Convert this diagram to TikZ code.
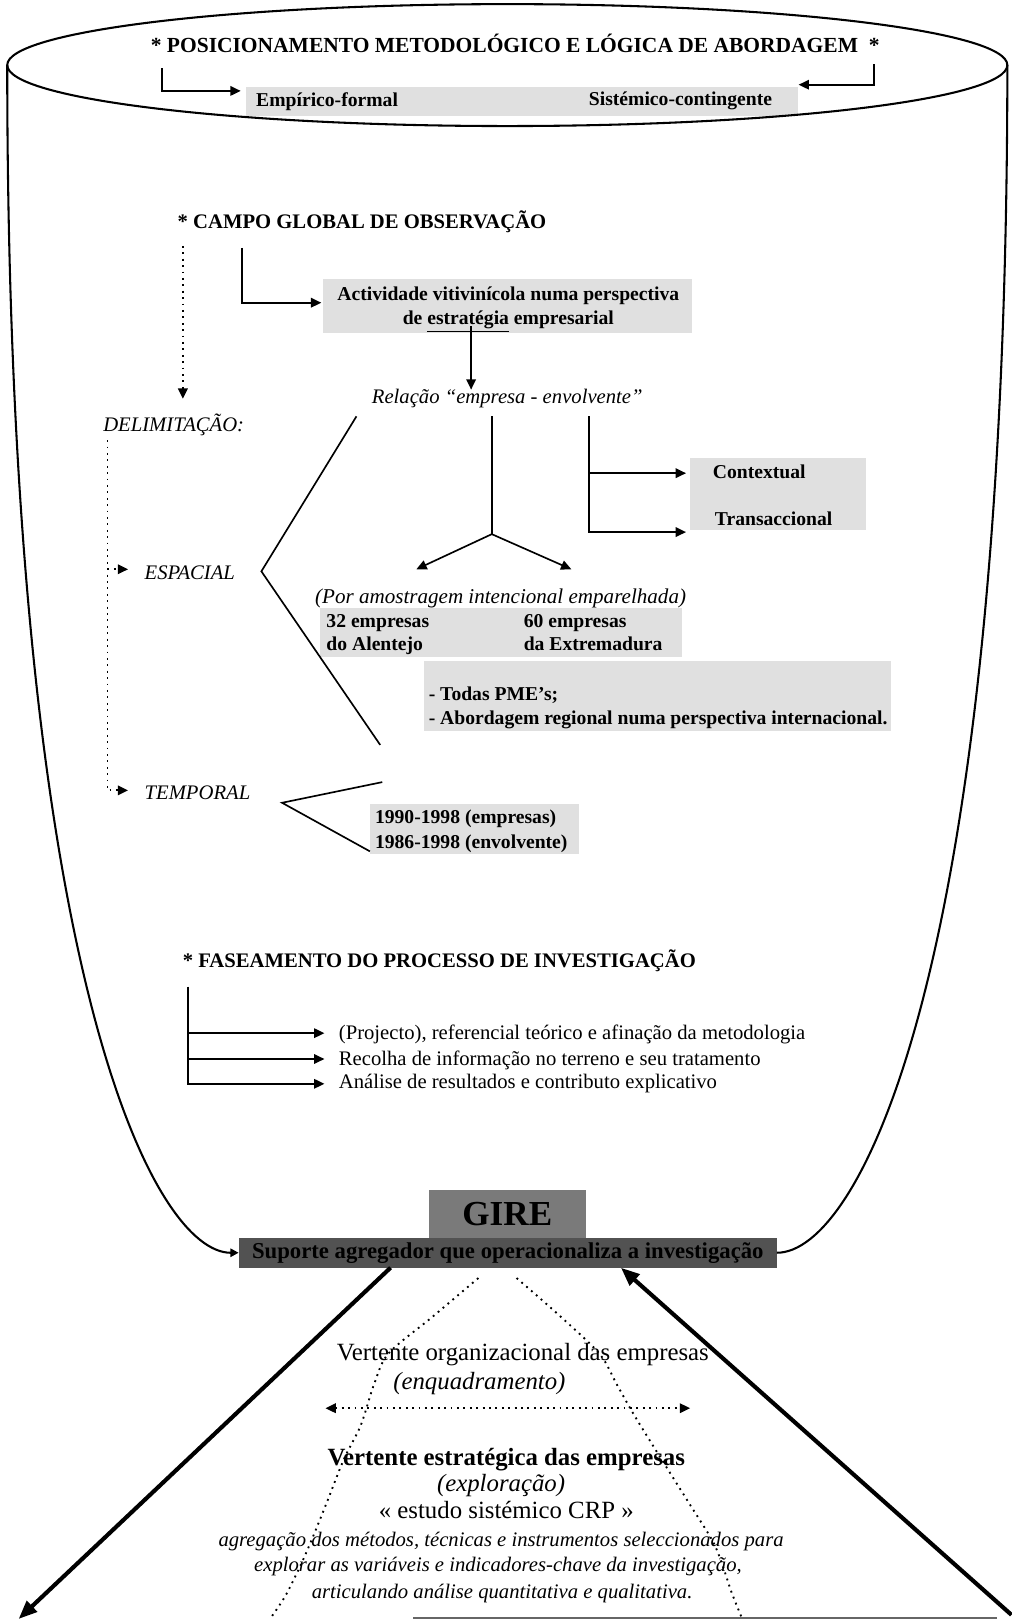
\documentclass[tikz,border=0pt]{standalone}
\usepackage{fontspec}
\setmainfont{Liberation Serif}
\usetikzlibrary{arrows.meta}
\begin{document}
\begin{tikzpicture}[x=0.5pt,y=-0.5pt,
  every node/.style={inner sep=0pt, outer sep=0pt},
  hd/.style={anchor=base west, font=\fontsize{10}{12}\selectfont\bfseries},
  sb/.style={anchor=base west, font=\fontsize{9.5}{11.5}\selectfont\bfseries},
  it/.style={anchor=base west, font=\fontsize{10}{12}\selectfont\itshape},
  rm/.style={anchor=base west, font=\fontsize{10}{12}\selectfont},
  big/.style={anchor=base, font=\fontsize{12}{14}\selectfont},
  shade/.style={fill=black!12},
  ln/.style={line width=0.8pt},
  tip/.style={-{Triangle[length=5pt,width=4.6pt]}},
  dotln/.style={line width=0.9pt, dash pattern=on 0.9pt off 2.2pt},
  cyl/.style={line width=1pt},
  heavy/.style={line width=2pt, -{Triangle[length=9pt,width=7pt]}},
]
\fill[white] (0,0) rectangle (979,1568);
\useasboundingbox (0,0) rectangle (979,1568);

% light shaded panels behind the highlighted texts
\fill[shade] (238,84) rectangle (772,112);
\fill[shade] (313,270) rectangle (670,322);
\fill[shade] (668,443) rectangle (838,513);
\fill[shade] (310,588) rectangle (660,636);
\fill[shade] (410,640) rectangle (862,708);
\fill[shade] (358,778) rectangle (560,827);

% ---------- top: methodological positioning ----------
\draw[cyl] (491,63) ellipse [x radius=242pt, y radius=29.5pt];
\node[hd, font=\fontsize{10.4}{12}\selectfont\bfseries] (title) at (146,51)
  {* POSICIONAMENTO METODOLÓGICO E LÓGICA DE ABORDAGEM\ \ *};
\node[sb] (emp) at (248,103) {Empírico-formal};
\node[sb] (sis) at (570,102) {Sistémico-contingente};
\coordinate (a1s) at (157,66);
\coordinate (a1e) at (233,88);
\coordinate (a2s) at (846,62);
\coordinate (a2e) at (773,82);
\draw[ln,tip] (a1s) |- (a1e);
\draw[ln,tip] (a2s) |- (a2e);

% ---------- global field of observation ----------
\node[hd] (campo) at (172,221) {* CAMPO GLOBAL DE OBSERVAÇÃO};
\coordinate (c1s) at (234,240);
\coordinate (c1e) at (311,293);
\draw[ln,tip] (c1s) |- (c1e);
\node[sb, anchor=base] (act1) at (492,291) {Actividade vitivinícola numa perspectiva};
\node[sb, anchor=base] (act2) at (492,314) {de \underline{estratégia} empresarial};
\node[it] (rel) at (360,391) {Relação “empresa - envolvente”};
\coordinate (d1) at (456,316);
\draw[ln,tip] (d1) -- (d1 |- rel.north);

\coordinate (v0) at (177,238);
\draw[dotln,tip] (v0) -- (177,386);
\node[it] (delim) at (100,418) {DELIMITAÇÃO:};
\node[it] (esp) at (140,561) {ESPACIAL};
\node[it] (temp) at (140,774) {TEMPORAL};
\coordinate (dl0) at (104,426);
\coordinate (dl1) at (104,551);
\draw[dotln,tip] (dl0) |- (124,765);
\draw[dotln,tip] (dl1) -- (124,551);

% spatial delimitation
\draw[ln] (345,403) -- (253,553) -- (368,721);
\coordinate (r1) at (476,403);
\coordinate (r1b) at (476,517);
\draw[ln] (r1) -- (r1b);
\draw[ln,tip] (r1b) -- (403,551);
\draw[ln,tip] (r1b) -- (553,551);
\coordinate (r2) at (570,403);
\coordinate (r2m) at (570,458);
\draw[ln,tip] (r2) |- (664,515);
\draw[ln,tip] (r2m) -- (664,458);
\node[sb] (ctx) at (690,463) {Contextual};
\node[sb] (trn) at (692,509) {Transaccional};

\node[it, font=\fontsize{10.2}{12}\selectfont\itshape] (por) at (305,584) {(Por amostragem intencional emparelhada)};
\node[sb] (n32) at (316,607) {32 empresas};
\node[sb] (alt) at (316,630) {do Alentejo};
\node[sb] (n60) at (507,607) {60 empresas};
\node[sb] (ext) at (507,630) {da Extremadura};
\node[sb] (pme) at (415,678) {- Todas PME’s;};
\node[sb] (abo) at (415,701) {- Abordagem regional numa perspectiva internacional.};

% temporal delimitation
\draw[ln] (370,757) -- (273,777) -- (358,824);
\node[sb] (y1) at (363,797) {1990-1998 (empresas)};
\node[sb] (y2) at (363,821) {1986-1998 (envolvente)};

% ---------- research phases ----------
\node[hd] (fase) at (177,936) {* FASEAMENTO DO PROCESSO DE INVESTIGAÇÃO};
\node[rm] (p1) at (328,1006) {(Projecto), referencial teórico e afinação da metodologia};
\node[rm] (p2) at (328,1031) {Recolha de informação no terreno e seu tratamento};
\node[rm] (p3) at (328,1054) {Análise de resultados e contributo explicativo};
\coordinate (f0) at (182,955);
\coordinate (f1) at (182,1000);
\coordinate (f2) at (182,1025);
\draw[ln,tip] (f0) |- (314,1049);
\draw[ln,tip] (f1) -- (314,1000);
\draw[ln,tip] (f2) -- (314,1025);

% ---------- GIRE support ----------
\node[fill=black!52, minimum width=76pt, minimum height=23pt,
      font=\fontsize{17}{20}\selectfont\bfseries] (gire) at (491,1175) {GIRE};
\node[fill=black!68, minimum width=260.5pt, minimum height=14.5pt,
      font=\fontsize{11}{12}\selectfont\bfseries] (bar) at (491.5,1212.5)
  {Suporte agregador que operacionaliza a investigação};

\draw[cyl,-{Triangle[length=4pt,width=4pt]}] (7,63) .. controls (7,950) and (150,1213) .. (bar.west);
\draw[cyl] (975,63) .. controls (975,950) and (829,1213) .. (bar.east);

% ---------- lower pyramid ----------
\coordinate (bl) at (18,1567);
\coordinate (br) at (979,1563);
\draw[heavy] ([xshift=-56.75pt]bar.south) -- (bl);
\draw[heavy] (br) -- ([xshift=54.75pt]bar.south);

\draw[dotln] plot[smooth] coordinates {(463,1237) (418,1275) (376,1310) (362,1340) (349,1380) (333,1412) (316,1455) (301,1492) (290,1517) (276,1545) (262,1566)};
\draw[dotln] plot[smooth] coordinates {(500,1237) (540,1272) (580,1310) (597,1340) (614,1370) (640,1412) (667,1455) (690,1492) (700,1517) (708,1541) (718,1566)};

\node[big] (org) at (506,1317) {Vertente organizacional das empresas};
\node[big, font=\fontsize{12}{14}\selectfont\itshape] (enq) at (464,1345) {(enquadramento)};
\coordinate (h1) at (315,1363);
\coordinate (h2) at (668,1363);
\draw[dotln,{Triangle[length=5pt,width=4.6pt]}-{Triangle[length=5pt,width=4.6pt]}] (h1) -- (h2);
\node[big, font=\fontsize{12}{14}\selectfont\bfseries] (est) at (490,1418) {Vertente estratégica das empresas};
\node[big, font=\fontsize{12}{14}\selectfont\itshape] (expl) at (485,1444) {(exploração)};
\node[big] (crp) at (490,1470) {« estudo sistémico CRP »};
\node[anchor=base, font=\fontsize{10}{12}\selectfont\itshape] (ag1) at (485,1497) {agregação dos métodos, técnicas e instrumentos seleccionados para};
\node[anchor=base, font=\fontsize{10}{12}\selectfont\itshape] (ag2) at (482,1521) {explorar as variáveis e indicadores-chave da investigação,};
\node[anchor=base, font=\fontsize{10}{12}\selectfont\itshape] (ag3) at (486,1547) {articulando análise quantitativa e qualitativa.};

% edge of the next panel
\draw[line width=0.8pt, black!60] (400,1566) -- (965,1566);
\end{tikzpicture}
\end{document}
